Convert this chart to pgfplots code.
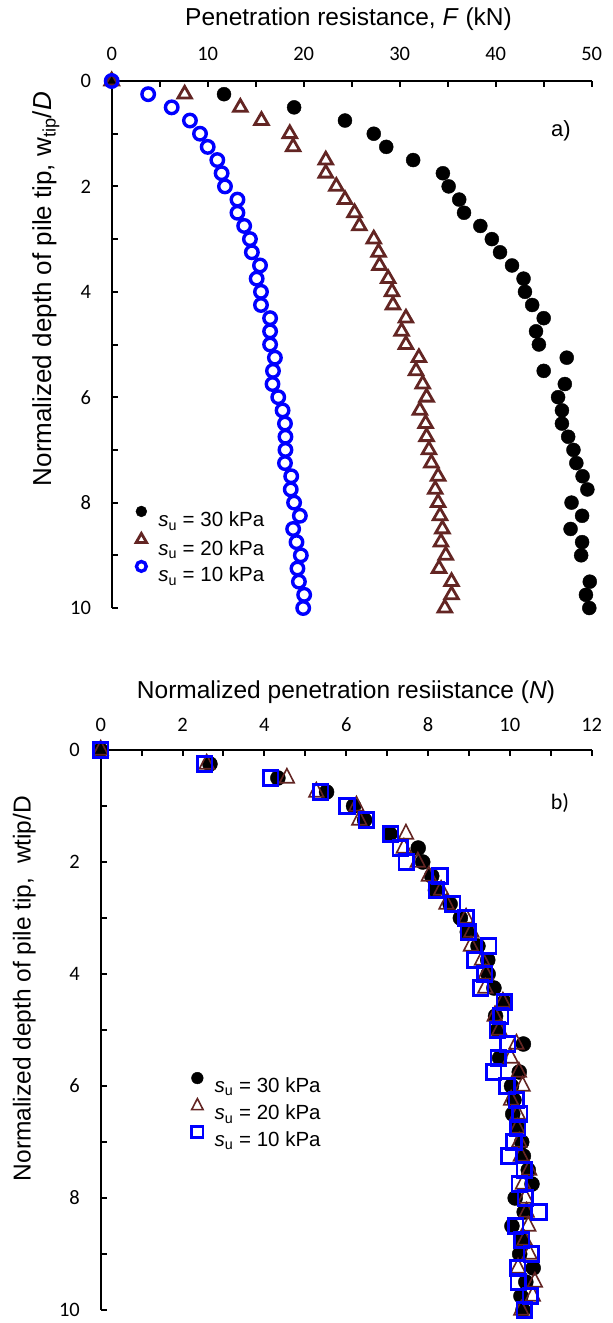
\documentclass[border=0pt]{standalone}
\usepackage{pgfplots}
\usepackage{pgfplotstable}
\pgfplotsset{compat=1.18}
\usepackage{fontspec}
\setmainfont{Liberation Sans}
\newfontfamily\calibri{Carlito}
\definecolor{tri}{RGB}{99,37,35}
\newcommand{\ticksz}{\fontsize{20.5}{24}\selectfont\calibri}
\newcommand{\labsz}{\fontsize{24.5}{29}\selectfont}
\newcommand{\legsz}{\fontsize{20.5}{24}\selectfont}

\pgfplotstableread{
z F30 F20 F10
0 0 0 0
0.25 11.7 7.6 3.8
0.5 19.0 13.4 6.25
0.75 24.3 15.6 8.15
1.0 27.3 18.55 9.2
1.25 28.6 18.9 10.0
1.5 31.4 22.3 11.0
1.75 34.5 22.3 11.45
2.0 35.1 23.4 11.8
2.25 36.2 24.3 13.1
2.5 36.7 25.3 13.1
2.75 38.4 25.8 13.8
3.0 39.6 27.3 14.4
3.25 40.45 27.8 14.6
3.5 41.7 27.9 15.45
3.75 42.9 28.8 15.1
4.0 43.05 29.2 15.55
4.25 43.8 29.3 15.55
4.5 45.0 30.65 16.5
4.75 44.2 30.2 16.5
5.0 44.5 30.65 16.5
5.25 47.4 32.0 17.0
5.5 45.0 31.7 16.8
5.75 47.2 32.4 16.75
6.0 46.5 32.8 17.35
6.25 46.9 32.1 17.8
6.5 46.9 32.7 18.05
6.75 47.55 32.8 18.1
7.0 48.1 33.05 18.1
7.25 48.4 33.3 18.05
7.5 49.05 34.0 18.7
7.75 49.55 33.7 18.65
8.0 47.9 34.0 19.0
8.25 49.0 34.2 19.6
8.5 47.8 34.45 18.9
8.75 49.0 34.3 19.25
9.0 48.9 34.8 19.7
9.25 nan 34.1 19.35
9.5 49.8 35.4 19.5
9.75 49.4 35.4 20.05
10.0 49.75 34.7 19.95
}\dataA

\pgfplotstableread{
z N30 N20 N10
0 0 0 0
0.25 2.67 2.59 2.54
0.5 4.33 4.55 4.15
0.75 5.52 5.27 5.38
1.0 6.18 6.25 6.02
1.25 6.45 6.32 6.49
1.5 7.07 7.46 7.09
1.75 7.76 7.41 7.32
2.0 7.87 7.75 7.47
2.25 8.09 8.02 8.29
2.5 8.18 8.32 8.20
2.75 8.54 8.45 8.60
3.0 8.79 8.93 8.93
3.25 8.96 9.06 8.98
3.5 9.22 9.05 9.48
3.75 9.46 9.32 9.15
4.0 9.47 9.41 9.38
4.25 9.61 9.40 9.29
4.5 9.86 9.83 9.86
4.75 9.65 9.63 9.78
5.0 9.69 9.74 9.69
5.25 10.33 10.16 9.95
5.5 9.75 10.02 9.72
5.75 10.23 10.22 9.60
6.0 10.04 10.31 9.93
6.25 10.10 10.03 10.16
6.5 10.07 10.19 10.24
6.75 10.19 10.18 10.19
7.0 10.29 10.23 10.10
7.25 10.33 10.27 9.98
7.5 10.45 10.47 10.35
7.75 10.54 10.32 10.23
8.0 10.13 10.38 10.38
8.25 10.35 10.41 10.71
8.5 10.05 10.45 10.14
8.75 10.29 10.36 10.29
9.0 10.24 10.48 10.52
9.25 10.57 10.20 10.19
9.5 10.39 10.61 10.21
9.75 10.27 10.56 10.50
10.0 10.32 10.28 10.35
}\dataB

\pgfplotsset{
  common/.style={
    scale only axis,
    y dir=reverse,
    axis x line=top, axis y line=left,
    axis line style={line width=2.2pt, -},
    tick align=inside,
    major tick length=6pt, minor tick length=6pt,
    tick style={black, line width=2pt},
    minor x tick num=1, minor y tick num=1,
    ymin=0, ymax=10, ytick={0,2,...,10},
    /pgf/number format/assume math mode=true,
    ticklabel style={font=\ticksz, inner sep=0pt},
    legend cell align=left,
    legend style={draw=none, fill=none, inner sep=0pt, row sep=1.5pt, column sep=11.5pt,
      font=\legsz, nodes={inner sep=0pt, text height=18pt, text depth=5pt}},
  }
}

\begin{document}
\begin{tikzpicture}[x=1pt,y=1pt]
\useasboundingbox (0pt,0pt) rectangle (613pt,-1323pt);

% ---------- panel a ----------
\begin{axis}[common, at={(111.7pt,-608pt)}, anchor=south west,
  width=480pt, height=527pt,
  xmin=0, xmax=50, xtick={0,10,...,50},
  xticklabel shift=20pt, yticklabel shift=20.5pt,
  legend style={at={(axis cs:2.5,8.06)}, anchor=north west},
  legend image code/.code={\draw[mark repeat=2,mark phase=2,#1,every mark/.append style={scale=0.78}] plot coordinates {(0pt,9pt) (8pt,9pt) (16pt,9pt)};},
]
\addplot[only marks, mark=*, mark size=7pt, draw=black, fill=black] table[x=F30,y=z] {\dataA};
\addlegendentry{\textit{s}\textsubscript{u} = 30 kPa}
\addplot[only marks, mark=triangle, mark size=7.8pt, draw=tri, line width=2.8pt] table[x=F20,y=z] {\dataA};
\addlegendentry{\textit{s}\textsubscript{u} = 20 kPa}
\addplot[only marks, mark=o, mark size=6.25pt, draw=blue, line width=3.4pt] table[x=F10,y=z] {\dataA};
\addlegendentry{\textit{s}\textsubscript{u} = 10 kPa}
\end{axis}

\node[anchor=base, font=\labsz] at (348.5pt,-25pt) {Penetration resistance, \textit{F} (kN)};
\node[anchor=base, rotate=90, font=\fontsize{26}{30}\selectfont] at (51pt,-289pt) {Normalized depth of pile tip, w\textsubscript{tip}/\textit{D}};
\node[anchor=base, font=\fontsize{22}{26}\selectfont] at (561pt,-136pt) {a)};

% ---------- panel b ----------
\begin{axis}[common, at={(100.7pt,-1310pt)}, anchor=south west,
  width=491pt, height=560pt,
  xmin=0, xmax=12, xtick={0,2,...,12},
  xticklabel shift=18pt, yticklabel shift=20.7pt,
  legend style={at={(axis cs:2.215,5.75)}, anchor=north west},
  legend image code/.code={\draw[mark repeat=2,mark phase=2,#1,every mark/.append style={scale=0.78}] plot coordinates {(0pt,7.5pt) (8pt,7.5pt) (16pt,7.5pt)};},
]
\addplot[only marks, mark=*, mark size=7.5pt, draw=black, fill=black] table[x=N30,y=z] {\dataB};
\addlegendentry{\textit{s}\textsubscript{u} = 30 kPa}
\addplot[only marks, mark=triangle, mark size=8.4pt, draw=tri, line width=1.6pt, mark options={yscale=1.12}] table[x=N20,y=z] {\dataB};
\addlegendentry{\textit{s}\textsubscript{u} = 20 kPa}
\addplot[only marks, mark=square, mark size=7.3pt, draw=blue, line width=2.6pt] table[x=N10,y=z] {\dataB};
\addlegendentry{\textit{s}\textsubscript{u} = 10 kPa}
\end{axis}

\node[anchor=base, font=\labsz] at (346pt,-698pt) {Normalized penetration resiistance (\textit{N})};
\node[anchor=base, rotate=90, font=\labsz] at (30.7pt,-988.5pt) {Normalized depth of pile tip,\ \ wtip/D};
\node[anchor=base, font=\fontsize{22}{26}\selectfont\calibri] at (560pt,-809pt) {b)};
\end{tikzpicture}
\end{document}
